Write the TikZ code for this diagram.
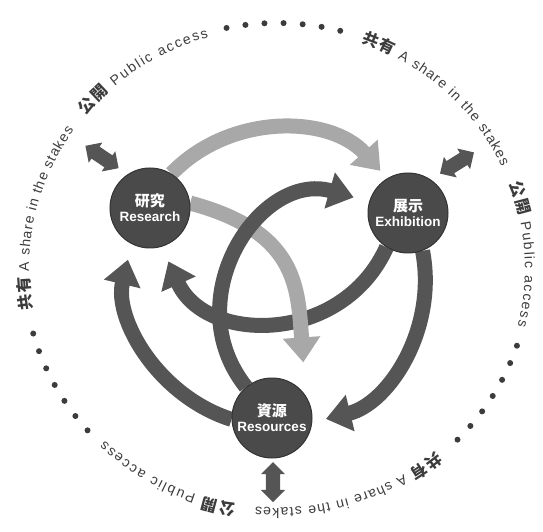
\documentclass[tikz,border=0pt]{standalone}
\usepackage{fontspec}
\setmainfont{Liberation Sans}
\newfontfamily\jfont{Noto Sans CJK JP}
\usetikzlibrary{arrows.meta, shapes.arrows, decorations.text, positioning, calc}
\pgfdeclarelayer{background}
\pgfsetlayers{background,main}
\definecolor{hubgray}{HTML}{4A4A4A}
\definecolor{flowdark}{HTML}{555555}
\definecolor{flowlight}{HTML}{A8A8A8}
\definecolor{ringtext}{HTML}{3C3C3C}
\tikzset{
	hub/.style={circle, draw=black!80, fill=hubgray, line width=1pt, minimum size=80pt, inner sep=0pt, text=white, align=center, font=\fontsize{13.5}{15}\selectfont\bfseries},
	flow_dark/.style={draw=flowdark, line width=15pt, -{Triangle[length=25pt,width=36pt]}},
	flow_light/.style={draw=flowlight, line width=15pt, -{Triangle[length=25pt,width=36pt]}},
	access_arrow/.style={double arrow, fill=flowdark, minimum height=40pt, inner xsep=0pt, inner ysep=7pt, double arrow head extend=5pt},
	ring_dot/.style={fill=ringtext}
}

\begin{document}
\begin{tikzpicture}[x=1pt, y=1pt]
	\useasboundingbox (-277,-257) rectangle (266,275);
	\node[hub] (research) at (-127,67) {{\jfont\fontsize{15}{17}\selectfont 研究}\\Research};
	\node[hub] (exhibit) at (131,62) {{\jfont\fontsize{15}{17}\selectfont 展示}\\Exhibition};
	\node[hub] (resource) at (-5,-143) {{\jfont\fontsize{15}{17}\selectfont 資源}\\Resources};
	\begin{pgfonlayer}{background}
		\draw[flow_light, shorten >=10pt] (research.58) .. controls +(46:85) and +(132:85) .. (exhibit.121);
		\draw[flow_dark, shorten >=14pt] (exhibit.-69) .. controls +(-79:79) and +(13.6:79) .. (resource.-6);
		\draw[flow_dark, shorten >=16pt] (resource.182) .. controls +(162.4:77) and +(256.7:77) .. (research.243);
		\draw[flow_dark, shorten >=16pt] (exhibit.238) .. controls +(-114.3:107) and +(-65.9:107) .. (research.-73);
		\draw[flow_light, shorten >=33pt] (research.7) .. controls +(-15:110) and +(94:110) .. (resource.34);
		\draw[flow_dark, shorten >=16pt] (resource.130) .. controls +(128.5:113) and +(163.9:113) .. (exhibit.164);
	\end{pgfonlayer}
	\node[access_arrow, rotate=146] (link_research) at (-175,118) {};
	\node[access_arrow, rotate=32] (link_exhibit) at (180,112) {};
	\node[access_arrow, rotate=90] (link_resource) at (-4,-207) {};
	% ring of text
	\coordinate (hub_mid) at (0,7);
	\foreach \o in {0,-120,-240}{
		\path[decorate, decoration={text along path, text align=fit to path, text color=ringtext,
			text={|\jfont\bfseries\fontsize{16}{16}\selectfont|共有|\fontsize{14}{14}\selectfont| A share in the stakes}}]
			($(hub_mid)+({190+\o}:248 and 240)$) arc[start angle={190+\o}, end angle={145+\o}, x radius=248, y radius=240];
		\path[decorate, decoration={text along path, text align=fit to path, text color=ringtext,
			text={|\jfont\bfseries\fontsize{16}{16}\selectfont|公開|\fontsize{14}{14}\selectfont| Public access}}]
			($(hub_mid)+({140.5+\o}:248 and 240)$) arc[start angle={140.5+\o}, end angle={106+\o}, x radius=248, y radius=240];
		\foreach \k in {0,...,6}
			\fill[ring_dot] ($(hub_mid)+({101.5+\o-4.33*\k}:253 and 245)$) circle[radius=3];
	}
\end{tikzpicture}
\end{document}
